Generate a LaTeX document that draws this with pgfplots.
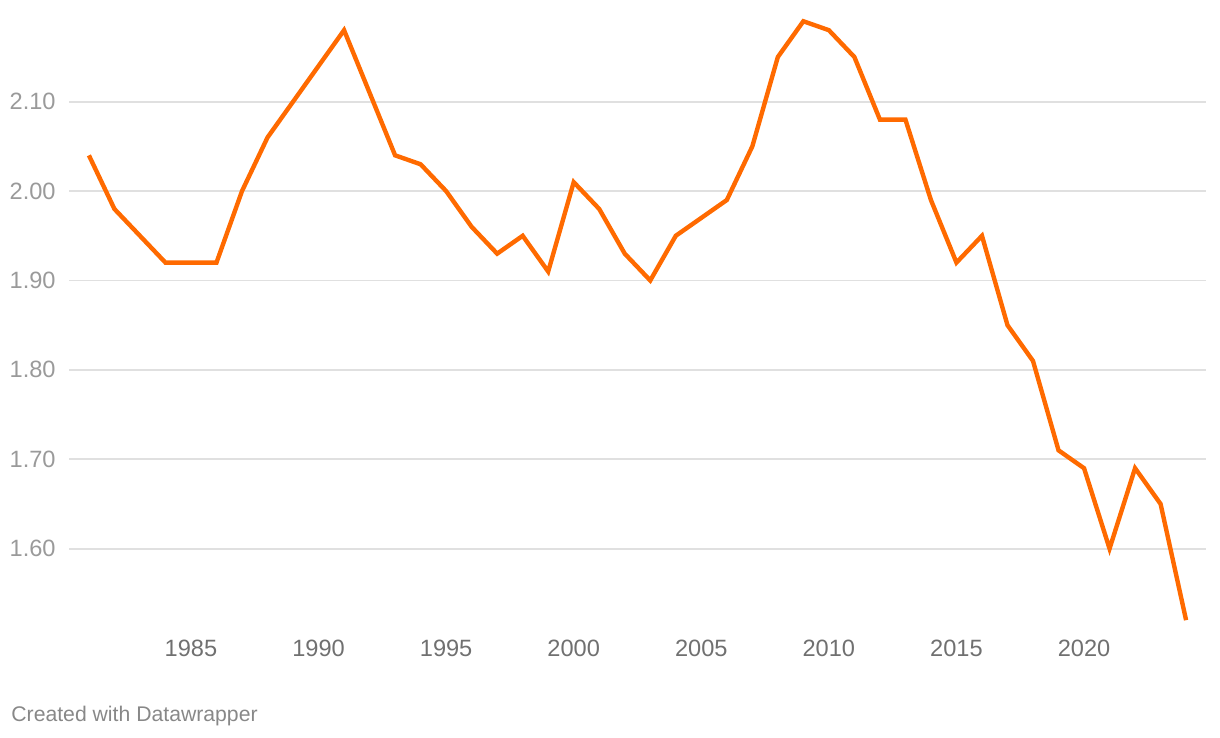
\documentclass[border=0pt]{standalone}
\usepackage{pgfplots}
\pgfplotsset{compat=1.18}
\usepackage{fontspec}
\setmainfont{Liberation Sans}
\definecolor{lineorange}{HTML}{FF6A00}
\definecolor{gridgray}{HTML}{E0E0E0}
\definecolor{ylabgray}{HTML}{9A9A9A}
\definecolor{xlabgray}{HTML}{707070}
\definecolor{footgray}{HTML}{888888}
\begin{document}
\begin{tikzpicture}
\path[use as bounding box] (0,0) rectangle (610pt,369pt);
\begin{axis}[
  at={(34.5pt,54pt)}, anchor=south west,
  scale only axis,
  width=568.5pt, height=307.5pt,
  xmin=1980.22, xmax=2024.78,
  ymin=1.509, ymax=2.197,
  axis line style={draw=none},
  xtick={1985,1990,...,2020},
  ytick={1.6,1.7,...,2.11},
  ymajorgrids=true,
  major grid style={gridgray, line width=0.85pt},
  major tick length=0pt,
  tick style={draw=none},
  /pgf/number format/assume math mode=true,
  xticklabel={\pgfmathprintnumber[1000 sep={}]{\tick}},
  yticklabel style={/pgf/number format/.cd, fixed, fixed zerofill, precision=2, /tikz/.cd},
  yticklabel style={font=\fontsize{11.8}{13}\selectfont, text=ylabgray, inner sep=0pt, anchor=east, xshift=-6.5pt},
  xticklabel style={font=\fontsize{11.8}{13}\selectfont, text=xlabgray, inner sep=0pt, anchor=north, yshift=-5pt},
  clip=false,
]
\addplot[lineorange, line width=2.2pt, line join=miter] coordinates {
(1981,2.04) (1982,1.98) (1983,1.95) (1984,1.92) (1985,1.92) (1986,1.92)
(1987,2.00) (1988,2.06) (1989,2.10) (1990,2.14) (1991,2.18) (1992,2.11)
(1993,2.04) (1994,2.03) (1995,2.00) (1996,1.96) (1997,1.93) (1998,1.95)
(1999,1.91) (2000,2.01) (2001,1.98) (2002,1.93) (2003,1.90) (2004,1.95)
(2005,1.97) (2006,1.99) (2007,2.05) (2008,2.15) (2009,2.19) (2010,2.18)
(2011,2.15) (2012,2.08) (2013,2.08) (2014,1.99) (2015,1.92) (2016,1.95)
(2017,1.85) (2018,1.81) (2019,1.71) (2020,1.69) (2021,1.60) (2022,1.69)
(2023,1.65) (2024,1.52)
};
\end{axis}
\node[anchor=base west, inner sep=0pt, text=footgray, font=\fontsize{10.6}{12}\selectfont] at (5.5pt,8pt) {Created with Datawrapper};
\end{tikzpicture}
\end{document}
